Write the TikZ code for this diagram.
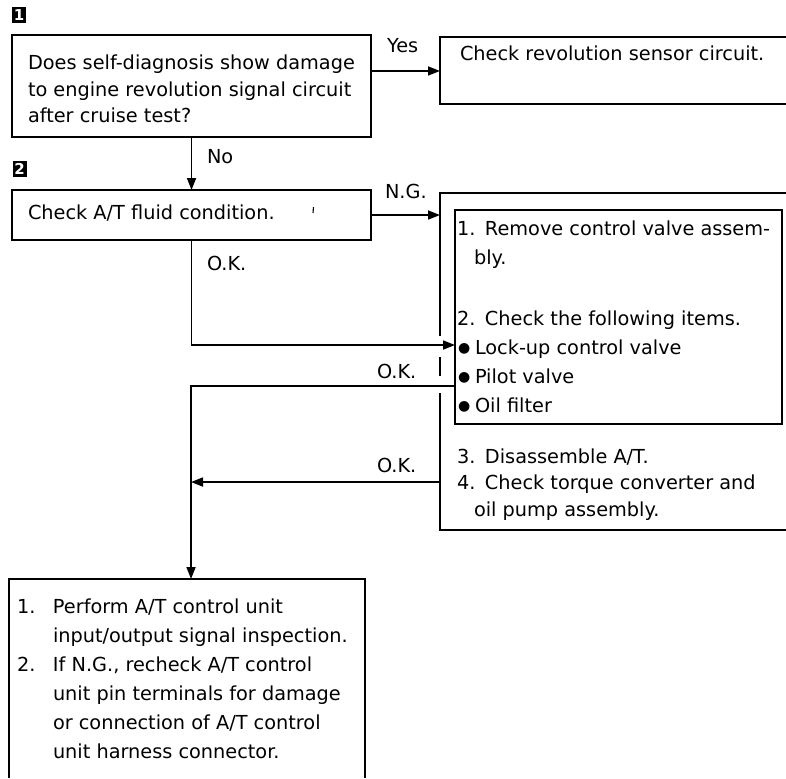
\documentclass[tikz,border=0pt]{standalone}
\usepackage{fontspec}
\setmainfont{DejaVu Sans}
\usetikzlibrary{arrows.meta}
\newcommand{\blt}{\makebox[18pt][l]{\hspace*{1pt}\raisebox{1.5pt}{\fontsize{14}{14}\selectfont ●}}}
\begin{document}
\begin{tikzpicture}[x=1pt,y=-1pt,
  every node/.style={inner sep=0pt, outer sep=0pt},
  ln/.style={line width=1.7pt},
  arr/.style={ln, -{Triangle[length=12pt,width=9pt]}},
  lbl/.style={anchor=base west, font=\fontsize{19.3}{23}\selectfont},
  txtA/.style={anchor=base west, font=\fontsize{19.3}{26.5}\selectfont},
  txtB/.style={anchor=base west, font=\fontsize{19.3}{29}\selectfont},
  boxst/.style={draw, ln, anchor=north west},
  marker/.style={fill=black, text=white, minimum width=14pt, minimum height=16pt, font=\bfseries\fontsize{15}{15}\selectfont}
]
\fill[white] (0,0) rectangle (786,778);
\useasboundingbox (0,0) rectangle (786,778);

% step markers
\node[marker] (m1) at (19,15.5) {1};
\node[marker] (m2) at (19.5,169) {2};

% box 1
\node[boxst, minimum width=359pt, minimum height=102pt] (b1) at (12,35) {};
\node[txtA] (t1) at (28,70) {\parbox[t]{340pt}{\raggedright
Does self-diagnosis show damage\\
to engine revolution signal circuit\\
after cruise test?}};

% revolution sensor box (open on the right)
\draw[ln] (786,37) -- (440,37) -- (440,104) -- (786,104);
\coordinate (revL) at (440,71);
\node[lbl] (trev) at (460,61) {Check revolution sensor circuit.};

% box 2
\node[boxst, minimum width=359pt, minimum height=50pt] (b2) at (12,190) {};
\node[lbl] (t2) at (28,219) {Check A/T fluid condition.};
\draw[line width=1.1pt] (313.5,207) -- (313,213);

% outer box (open on the right, with crossing gaps)
\draw[ln] (786,193) -- (440,193) -- (440,336);
\draw[ln] (440,357) -- (440,376);
\draw[ln] (440,393) -- (440,530) -- (786,530);
\coordinate (ngT) at (440,215);
\coordinate (okOut) at (440,482);

% inner box
\node[boxst, minimum width=327pt, minimum height=214pt] (ib) at (455,210) {};
\node[txtB] (t3) at (457,235) {\parbox[t]{320pt}{\raggedright
\makebox[28pt][l]{1.}Remove control valve assem-\\
\hspace*{17pt}bly.\\[32pt]
\makebox[28pt][l]{2.}Check the following items.\\
\blt Lock-up control valve\\
\blt Pilot valve\\
\blt Oil filter}};
\node[txtA] (t4) at (457,463) {\parbox[t]{330pt}{\raggedright
\makebox[28pt][l]{3.}Disassemble A/T.\\
\makebox[28pt][l]{4.}Check torque converter and\\
\hspace*{17pt}oil pump assembly.}};

% bottom box (open at the bottom)
\draw[ln] (9,778) -- (9,579) -- (365,579) -- (365,778);
\coordinate (b3T) at (191,579);
\node[txtB] (t5) at (17,613) {\parbox[t]{345pt}{\raggedright
\makebox[36pt][l]{1.}Perform A/T control unit\\
\hspace*{36pt}input/output signal inspection.\\
\makebox[36pt][l]{2.}If N.G., recheck A/T control\\
\hspace*{36pt}unit pin terminals for damage\\
\hspace*{36pt}or connection of A/T control\\
\hspace*{36pt}unit harness connector.}};

% connectors
\coordinate (y345) at (0,345);
\coordinate (y386) at (0,386);
\coordinate (j3) at (191,482);
\draw[arr] (b1.east |- revL) -- (revL);
\draw[arr] (b1.south) -- (b2.north);
\draw[arr] (b2.east |- ngT) -- (ngT);
\draw[arr] (b2.south) |- (ib.west |- y345);
\draw[arr] (ib.west |- y386) -| (b3T);
\draw[arr] (okOut) -- (j3);

% labels
\node[lbl] (lyes) at (387,53) {Yes};
\node[lbl] (lno) at (207,164) {No};
\node[lbl] (lng) at (385,198) {N.G.};
\node[lbl] (lok1) at (207,270) {O.K.};
\node[lbl] (lok2) at (377,378) {O.K.};
\node[lbl] (lok3) at (377,472) {O.K.};
\end{tikzpicture}
\end{document}
